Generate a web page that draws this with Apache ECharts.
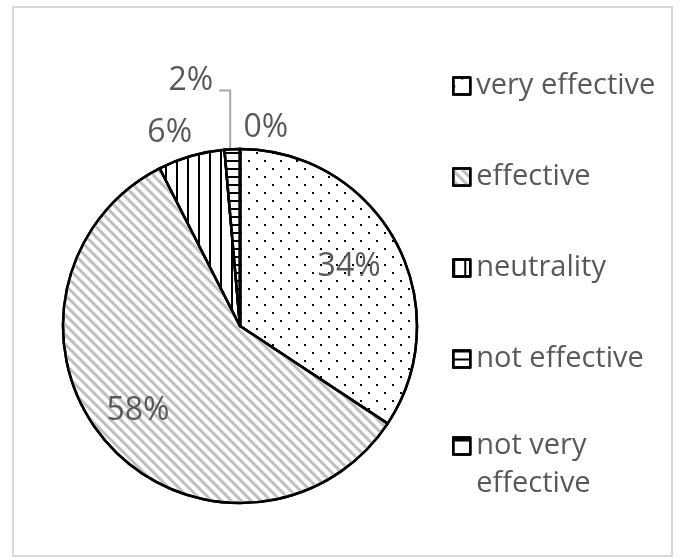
<!DOCTYPE html>
<html>
<head>
<meta charset="utf-8">
<script src="https://cdn.jsdelivr.net/npm/echarts@6/dist/echarts.min.js"></script>
<style>
  html, body { margin: 0; padding: 0; background: #ffffff; }
  #chart { width: 681px; height: 558px; }
</style>
</head>
<body>
<div id="chart"></div>
<script>
// Survey answers and their shares (percent of respondents)
const categories = ['very effective', 'effective', 'neutrality', 'not effective', 'not very effective'];
const shares = [34.3, 58.2, 6.1, 1.4, 0];

// Fill patterns for each answer (black-and-white print style)
const patterns = [
  { symbol: 'rect', symbolSize: 1, color: '#000000', backgroundColor: null,
    dashArrayX: [[2, 14], [0, 8, 2, 6]], dashArrayY: [2, 6], rotation: 0 },
  { symbol: 'rect', symbolSize: 1, color: '#bfbfbf', backgroundColor: null,
    dashArrayX: [1, 0], dashArrayY: [3, 3.4], rotation: Math.PI / 4 },
  { symbol: 'rect', symbolSize: 1, color: '#000000', backgroundColor: null,
    dashArrayX: [2, 8.3], dashArrayY: [1, 0], rotation: 0 },
  { symbol: 'rect', symbolSize: 1, color: '#000000', backgroundColor: null,
    dashArrayX: [1, 0], dashArrayY: [2, 6], rotation: 0 },
  { symbol: 'rect', symbolSize: 1, color: '#000000', backgroundColor: null,
    dashArrayX: [1, 0], dashArrayY: [4, 13], rotation: 0 }
];

// Pie geometry (pixels)
const CX = 240, CY = 326, R = 177;

// Label placement: [angle offset from slice middle (deg), distance as fraction of radius]
const labelSpots = [[0, 0.70], [2, 0.75], [-4, 1.16], [-8.8, 1.415], [7.4, 1.13]];

const total = shares.reduce((a, b) => a + b, 0);
const midAngles = [];
let acc = 0;
shares.forEach(v => {
  const span = v / total * 360;
  midAngles.push(acc + span / 2);
  acc += span;
});

const legendBase = {
  orient: 'vertical',
  left: 452,
  height: 800,
  padding: 0,
  icon: 'rect',
  itemWidth: 17,
  itemHeight: 17,
  itemGap: 53,
  selectedMode: false,
  itemStyle: { borderColor: '#000000', borderWidth: 2.5 },
  textStyle: {
    fontFamily: 'Open Sans', fontSize: 29, color: '#595959',
    lineHeight: 38, padding: [0, 0, 0, 1]
  }
};

const chart = echarts.init(document.getElementById('chart'), null, { renderer: 'canvas' });

chart.setOption({
  animation: false,
  backgroundColor: '#ffffff',
  graphic: [{
    type: 'rect',
    shape: { x: 13, y: 7, width: 659, height: 549 },
    style: { fill: 'none', stroke: '#d9d9d9', lineWidth: 2 },
    silent: true
  }],
  legend: [
    Object.assign({}, legendBase, {
      top: 67,
      data: categories.slice(0, 4)
    }),
    // the long answer wraps: first line beside the icon, second line below it
    Object.assign({}, legendBase, {
      top: 389,
      formatter: name => ' \n' + name.replace('very ', 'very\n'),
      data: categories.slice(4)
    })
  ],
  series: [{
    type: 'pie',
    center: [CX, CY],
    radius: R,
    startAngle: 90,
    clockwise: true,
    avoidLabelOverlap: false,
    percentPrecision: 0,
    emphasis: { disabled: true },
    itemStyle: { color: '#ffffff', borderColor: '#000000', borderWidth: 2.5 },
    label: {
      show: true,
      position: 'outside',
      formatter: '{d}%',
      fontFamily: 'Open Sans',
      fontSize: 32,
      color: '#595959'
    },
    labelLine: { show: false, lineStyle: { color: '#a6a6a6', width: 2 } },
    labelLayout: function (p) {
      const i = p.dataIndex;
      const a = (midAngles[i] + labelSpots[i][0]) * Math.PI / 180;
      const d = labelSpots[i][1] * R;
      const x = CX + d * Math.sin(a);
      const y = CY - d * Math.cos(a);
      const out = { x: x, y: y, align: 'center', verticalAlign: 'middle' };
      if (i === 3) {
        const m = midAngles[i] * Math.PI / 180;
        const sx = CX + R * Math.sin(m) - 2;
        const sy = CY - R * Math.cos(m);
        const ly = y + 10;
        const lx = x + p.labelRect.width / 2 + 6;
        out.labelLinePoints = [[sx, sy], [sx, ly], [lx, ly]];
      }
      return out;
    },
    data: categories.map((name, i) => ({
      name: name,
      value: shares[i],
      itemStyle: { decal: patterns[i] },
      labelLine: { show: i === 3 }
    }))
  }]
});
</script>
</body>
</html>
